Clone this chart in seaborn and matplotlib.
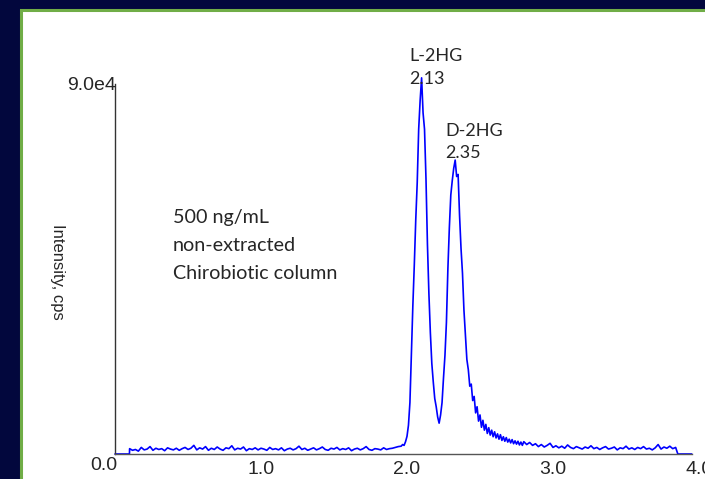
import numpy as np
import pandas as pd
import matplotlib.pyplot as plt
import seaborn as sns
from matplotlib.patches import Rectangle

# ─── Данные хроматограммы ────────────────────────────────────────────────────────
# baseline before the peaks, 0.10 .. 1.94 min, step 0.02
baseline_start = 0.10
baseline_cps = [1300, 900, 1100, 700, 1600, 1000, 1200, 1800, 900, 1400,
                1100, 1300, 800, 1500, 1200, 1000, 1400, 900, 1300, 1600,
                1100, 1400, 2100, 1000, 1500, 1200, 1800, 900, 1400, 1100,
                1700, 1200, 900, 1500, 1300, 2000, 1000, 1400, 1200, 1700,
                800, 1300, 1100, 1500, 1000, 1400, 1200, 900, 1600, 1100,
                1300, 1000, 1500, 800, 1200, 1400, 1000, 1300, 1900, 1100,
                1400, 900, 1200, 1500, 1000, 1300, 1700, 1100, 900, 1400,
                1200, 1600, 1000, 1300, 1100, 1500, 800, 1200, 1400, 1000,
                1300, 1800, 1100, 900, 1300, 1200, 1000, 1500, 1100, 1300,
                1400, 1600, 1800]

# L-2HG / D-2HG peaks, 1.96 .. 2.79 min, step 0.01
peaks_start = 1.96
peaks_cps = [1900, 2300, 2100, 3000, 4300, 7000, 12500, 24000, 36000, 46000,
             57000, 66000, 79000, 86000, 91500, 83000, 79000, 67000, 51000, 39000,
             29500, 22000, 17500, 13500, 11500, 9000, 7500, 9500, 12500, 18500,
             24000, 32000, 45000, 55000, 63000, 66500, 69500, 71500, 67500, 68000,
             58000, 50000, 44000, 35000, 29000, 23000, 20500, 16500, 17000, 13000,
             14000, 10000, 11500, 8000, 9500, 6500, 8200, 5800, 7200, 5000,
             6400, 4600, 5800, 4200, 5400, 3900, 4900, 3600, 4700, 3300,
             4200, 3100, 4000, 2900, 3600, 2700, 3500, 2500, 3200, 2400,
             3100, 2200, 2900, 2100]

# tail after the peaks, 2.80 .. 3.84 min, step 0.02
tail_start = 2.80
tail_cps = [3000, 2300, 2800, 2100, 2500, 1800, 2300, 1700, 2100, 2600,
            1600, 2000, 1500, 1900, 1400, 2200, 1600, 1300, 1800, 1500,
            1200, 1700, 1400, 2000, 1300, 1600, 1100, 1500, 1800, 1200,
            1400, 1700, 1000, 1500, 1300, 1900, 1200, 1500, 1100, 1600,
            1300, 1800, 1200, 1400, 1000, 1500, 2300, 1200, 1700, 1400,
            1900, 1300, 1600]

x_tick_labels = ["1.0", "2.0", "3.0", "4.0"]
sample_note = "500 ng/mL\nnon-extracted\nChirobiotic column"
peak_labels = ["L-2HG\n2.13", "D-2HG\n2.35"]


def build_frame():
    t = np.concatenate([
        [0.0, 0.099],
        baseline_start + 0.02 * np.arange(len(baseline_cps)),
        peaks_start + 0.01 * np.arange(len(peaks_cps)),
        tail_start + 0.02 * np.arange(len(tail_cps)),
        [3.855, 3.95],
    ])
    y = np.concatenate([[0, 0], baseline_cps, peaks_cps, tail_cps, [0, 0]])
    return pd.DataFrame({"time": t, "intensity": y})


# ─── График ──────────────────────────────────────────────────────────────────────
sns.set_style("white")
plt.rcParams["font.family"] = ["Liberation Sans", "DejaVu Sans"]

W, H = 705, 479
fig = plt.figure(figsize=(W / 100, H / 100), dpi=100)
fig.patch.set_facecolor("#02073d")
fig.patches.append(Rectangle((21 / W, -0.1), 1.0, 1 - 9.5 / H + 0.1,
                             transform=fig.transFigure, facecolor="white",
                             edgecolor="#70ad47", linewidth=2.2, zorder=-10))

ax = fig.add_axes([115 / W, 1 - 454 / H, 584 / W, 370 / H])
ax.set_facecolor("none")

df = build_frame()
sns.lineplot(data=df, x="time", y="intensity", ax=ax, color="#0000ff",
             linewidth=1.2, estimator=None, sort=False)
for ln in ax.lines:
    ln.set_clip_on(False)

ax.set_xlim(0, 4)
ax.set_ylim(0, 90000)
ax.set_xlabel("")
ax.set_ylabel("")

for s in ["top", "right"]:
    ax.spines[s].set_visible(False)
ax.spines["left"].set_color("#333333")
ax.spines["bottom"].set_color("#555555")
ax.spines["left"].set_linewidth(1.0)
ax.spines["bottom"].set_linewidth(1.0)
ax.spines["bottom"].set_bounds(0, 3.95)

ax.set_xticks([1, 2, 3, 4])
ax.set_xticklabels(x_tick_labels, fontsize=14)
ax.set_xticks(np.arange(1, 40) / 10, minor=True)
ax.tick_params(axis="x", which="both", direction="out", length=3,
               width=0.8, color="#333333", pad=1.5)
ax.tick_params(axis="x", which="major", length=0, pad=5)
ax.set_yticks([])
ax.set_yticks(np.arange(0, 90001, 5000), minor=True)
ax.tick_params(axis="y", which="minor", direction="out", length=2.5,
               width=0.8, color="#333333")

# y-axis end labels
fig.text(116 / W, 1 - 86 / H, "9.0e4", ha="right", va="center", fontsize=14)
fig.text(103.5 / W, 1 - 465 / H, "0.0", ha="center", va="center", fontsize=14)
fig.text(58 / W, 1 - 272 / H, "Intensity, cps", rotation=-90,
         ha="center", va="center", fontsize=12)

# annotations
fig.text(173 / W, 1 - 209 / H, sample_note, ha="left", va="top",
         fontsize=14.2, family="Lato", linespacing=1.8)
fig.text(409 / W, 1 - 48 / H, peak_labels[0], ha="left", va="top",
         fontsize=13, family="Lato", linespacing=1.5)
fig.text(445 / W, 1 - 123 / H, peak_labels[1], ha="left", va="top",
         fontsize=13, family="Lato", linespacing=1.5)

fig.savefig("out.png", dpi=100, facecolor=fig.get_facecolor())
